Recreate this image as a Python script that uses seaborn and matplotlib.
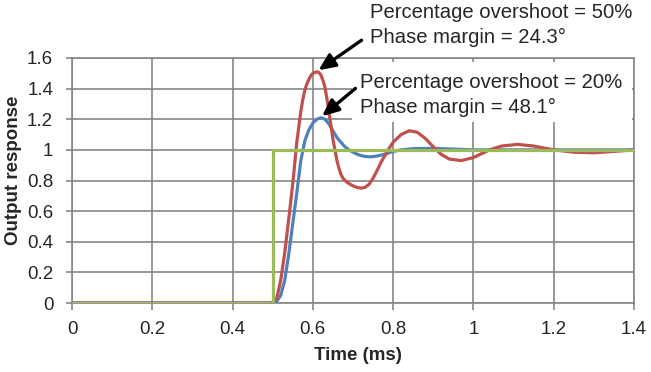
import numpy as np
import pandas as pd
import seaborn as sns
import matplotlib.pyplot as plt
from matplotlib.patches import Rectangle

sns.set_style('white')
plt.rcParams['font.family'] = ['Liberation Sans', 'DejaVu Sans']

# values
blue_t = [0, 0.50, 0.51, 0.52, 0.53, 0.54, 0.55, 0.56, 0.57, 0.58, 0.59, 0.60,
          0.61, 0.62, 0.63, 0.64, 0.65, 0.66, 0.67, 0.68, 0.69, 0.70, 0.71, 0.72,
          0.73, 0.74, 0.75, 0.76, 0.78, 0.80, 0.82, 0.85, 0.90, 0.95, 1.00, 1.40]
blue_y = [0, 0, 0.01, 0.05, 0.15, 0.32, 0.52, 0.72, 0.93, 1.06, 1.13, 1.175,
          1.2, 1.21, 1.2, 1.17, 1.125, 1.08, 1.05, 1.02, 1.0, 0.985, 0.972, 0.963,
          0.957, 0.955, 0.956, 0.96, 0.972, 0.99, 1.0, 1.008, 1.01, 1.005, 1.0, 1.0]

red_t = [0, 0.50, 0.51, 0.52, 0.53, 0.54, 0.55, 0.56, 0.57, 0.575, 0.58, 0.585,
         0.59, 0.595, 0.60, 0.61, 0.615, 0.62, 0.625, 0.63, 0.635, 0.64, 0.645,
         0.65, 0.66, 0.665, 0.67, 0.675, 0.68, 0.69, 0.70, 0.71, 0.72, 0.73, 0.74,
         0.75, 0.76, 0.77, 0.78, 0.79, 0.80, 0.82, 0.84, 0.86, 0.88, 0.90, 0.92,
         0.94, 0.97, 1.00, 1.04, 1.07, 1.11, 1.15, 1.20, 1.25, 1.30, 1.35, 1.40]
red_y = [0, 0, 0.03, 0.15, 0.33, 0.55, 0.78, 1.05, 1.25, 1.33, 1.39, 1.43,
         1.46, 1.485, 1.50, 1.51, 1.505, 1.49, 1.455, 1.41, 1.335, 1.25, 1.16,
         1.07, 0.93, 0.88, 0.84, 0.815, 0.80, 0.78, 0.765, 0.755, 0.75, 0.755, 0.775,
         0.815, 0.865, 0.92, 0.965, 1.01, 1.05, 1.10, 1.125, 1.115, 1.075, 1.02, 0.97,
         0.94, 0.93, 0.95, 1.0, 1.025, 1.036, 1.025, 1.0, 0.985, 0.981, 0.99, 1.0]

step_t = [0, 0.5, 0.5, 1.4]
step_y = [0, 0, 1, 1]

x_ticks = [0, 0.2, 0.4, 0.6, 0.8, 1.0, 1.2, 1.4]
x_labels = ['0', '0.2', '0.4', '0.6', '0.8', '1', '1.2', '1.4']
y_ticks = [0, 0.2, 0.4, 0.6, 0.8, 1.0, 1.2, 1.4, 1.6]
y_labels = ['0', '0.2', '0.4', '0.6', '0.8', '1', '1.2', '1.4', '1.6']

text_50 = ['Percentage overshoot = 50%', 'Phase margin = 24.3\u00b0']
text_20 = ['Percentage overshoot = 20%', 'Phase margin = 48.1\u00b0']

W, H = 651, 372
fig = plt.figure(figsize=(W / 100, H / 100), dpi=100)
ax = fig.add_axes([72 / W, 69 / H, 562 / W, 245 / H])

grid_c = '#868686'
df_blue = pd.DataFrame({'t': blue_t, 'y': blue_y})
df_red = pd.DataFrame({'t': red_t, 'y': red_y})
df_step = pd.DataFrame({'t': step_t, 'y': step_y})

sns.lineplot(data=df_blue, x='t', y='y', ax=ax, color='#4F81BD', lw=2.3,
             estimator=None, sort=False, zorder=3)
sns.lineplot(data=df_red, x='t', y='y', ax=ax, color='#C0504D', lw=2.3,
             estimator=None, sort=False, zorder=4)
sns.lineplot(data=df_step, x='t', y='y', ax=ax, color='#9BBB59', lw=2.3,
             estimator=None, sort=False, zorder=5)

ax.set_xlim(0, 1.4)
ax.set_ylim(0, 1.6)
ax.set_xticks(x_ticks)
ax.set_xticklabels(x_labels)
ax.set_yticks(y_ticks)
ax.set_yticklabels(y_labels)
ax.grid(True, color=grid_c, lw=1.2)
ax.set_axisbelow(True)
for s in ax.spines.values():
    s.set_color(grid_c)
    s.set_linewidth(1.2)
ax.tick_params(direction='out', width=1.2, color=grid_c, labelsize=13.5,
               bottom=True, left=True)
ax.tick_params(axis='x', length=5, pad=8)
ax.tick_params(axis='y', length=4.5, pad=9)
ax.set_xlabel('')
ax.set_ylabel('')

# white box behind the second note
ax.add_patch(Rectangle(((352 - 72) / 401.43, (303 - 122) / 153.125),
                       280 / 401.43, 60 / 153.125, facecolor='white',
                       edgecolor='none', zorder=2))

fig.text(358 / W, 1 - 356 / H, 'Time (ms)', ha='center', va='center',
         fontsize=13.5, fontweight='bold')
fig.text(14 / W, 1 - 170 / H, 'Output response', ha='center', va='center',
         rotation=90, fontsize=13.5, fontweight='bold')

for i, line in enumerate(text_50):
    fig.text(370 / W, 1 - (18.5 + 24.3 * i) / H, line, ha='left',
             va='baseline', fontsize=14.6)
for i, line in enumerate(text_20):
    fig.text(360 / W, 1 - (88.5 + 24.3 * i) / H, line, ha='left',
             va='baseline', fontsize=14.6)

arrow = dict(arrowstyle='-|>,head_length=1.0,head_width=0.45', color='black',
             lw=2.4, mutation_scale=10, shrinkA=0, shrinkB=0)
i_r = int(np.argmax(red_y))
i_b = int(np.argmax(blue_y))
ax.annotate('', xy=(red_t[i_r] + 0.004, red_y[i_r] + 0.01), xytext=(31, 21.6),
            textcoords='offset points', arrowprops=arrow, annotation_clip=False,
            zorder=6)
ax.annotate('', xy=(blue_t[i_b] + 0.003, blue_y[i_b] + 0.01), xytext=(24, 20),
            textcoords='offset points', arrowprops=arrow, annotation_clip=False,
            zorder=6)

fig.savefig('out.png', dpi=100)
